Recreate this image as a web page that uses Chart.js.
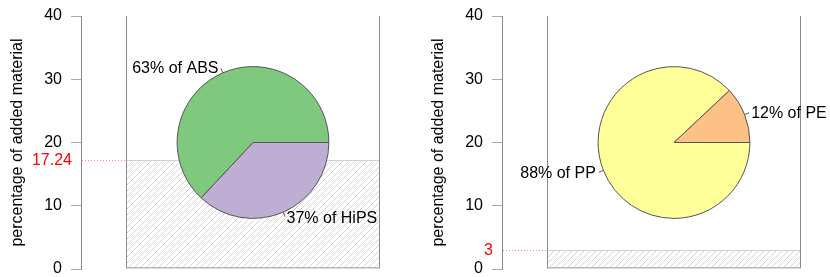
<!DOCTYPE html>
<html><head><meta charset="utf-8">
<script src="https://cdn.jsdelivr.net/npm/chart.js@4"></script>
<style>
html,body{margin:0;padding:0;background:#fff;overflow:hidden;}
#wrap{position:relative;width:830px;height:277px;}
.panel{position:absolute;top:0;width:409px;height:277px;}
.panel canvas{position:absolute;left:0;top:0;}
</style></head><body>
<div id="wrap">
 <div class="panel" style="left:0"><canvas id="bar1" width="409" height="277"></canvas><canvas id="pie1" width="409" height="277"></canvas></div>
 <div class="panel" style="left:421px"><canvas id="bar2" width="409" height="277"></canvas><canvas id="pie2" width="409" height="277"></canvas></div>
</div>
<script>
// ---- data ----
const yAxisTitle = 'percentage of added material';
const yMin = 0, yMax = 40, yStep = 10;
const leftMaterials = ['HiPS', 'ABS'];   // clockwise from 3 o'clock
const leftShares = [37, 63];
const leftAdded = 17.24;
const rightMaterials = ['PP', 'PE'];
const rightShares = [88, 12];
const rightAdded = 3;

// ---- styles / layout ----
const leftColors = ['#beaed4', '#7fc97f'];
const rightColors = ['#ffff99', '#fdc086'];
const pieCenterValue = 20, pieRadiusValue = 12;
const FONT = '"Liberation Sans", Arial, Helvetica, sans-serif';
Chart.defaults.font.family = FONT;
Chart.defaults.font.size = 16;
Chart.defaults.color = '#000';

function makeHatch() {
  const p = document.createElement('canvas');
  p.width = 6; p.height = 6;
  const g = p.getContext('2d');
  g.strokeStyle = '#d2d2d2'; g.lineWidth = 1;
  g.beginPath();
  g.moveTo(0, 6); g.lineTo(6, 0);
  g.moveTo(-1, 1); g.lineTo(1, -1);
  g.moveTo(5, 7); g.lineTo(7, 5);
  g.stroke();
  return g.createPattern(p, 'repeat');
}

const addedMarker = {
  id: 'addedMarker',
  afterDraw(chart, args, opts) {
    const y = chart.scales.y, ca = chart.chartArea, ctx = chart.ctx;
    const py = y.getPixelForValue(opts.value);
    ctx.save();
    ctx.strokeStyle = 'rgba(255,60,60,0.6)'; ctx.lineWidth = 1; ctx.setLineDash([1, 2]);
    ctx.beginPath();
    ctx.moveTo(y.right + 1, Math.round(py) + 0.5);
    ctx.lineTo(ca.left, Math.round(py) + 0.5);
    ctx.stroke();
    ctx.setLineDash([]);
    ctx.fillStyle = '#ff0000';
    ctx.font = '16px ' + FONT;
    ctx.textAlign = 'right'; ctx.textBaseline = 'middle';
    ctx.fillText(String(opts.value), y.right - 9, py + 1);
    ctx.restore();
  }
};

const pieLabels = {
  id: 'pieLabels',
  afterDatasetsDraw(chart) {
    const ctx = chart.ctx;
    const meta = chart.getDatasetMeta(0);
    const ds = chart.data.datasets[0];
    ctx.save();
    ctx.font = '16px ' + FONT;
    ctx.textBaseline = 'middle';
    meta.data.forEach((arc, i) => {
      const {x, y, startAngle, endAngle, outerRadius} =
        arc.getProps(['x', 'y', 'startAngle', 'endAngle', 'outerRadius'], true);
      const a = (startAngle + endAngle) / 2;
      const c = Math.cos(a), s = Math.sin(a);
      ctx.strokeStyle = '#333'; ctx.lineWidth = 0.8;
      ctx.beginPath();
      ctx.moveTo(x + c * outerRadius, y + s * outerRadius);
      ctx.lineTo(x + c * (outerRadius + 5), y + s * (outerRadius + 5));
      ctx.stroke();
      const tx = x + c * (outerRadius + 6) + (c >= 0 ? 1 : -2);
      const ty = y + s * (outerRadius + 6) + 1;
      ctx.textAlign = c >= 0 ? 'left' : 'right';
      ctx.fillStyle = '#000';
      ctx.fillText(ds.data[i] + '% of ' + chart.data.labels[i], tx, ty);
    });
    ctx.restore();
  }
};

function makePanel(barId, pieId, materials, shares, colors, added) {
  const barCanvas = document.getElementById(barId);
  const bar = new Chart(barCanvas, {
    type: 'bar',
    data: {
      labels: [''],
      datasets: [
        {label: 'frame', data: [yMax], yAxisID: 'y', backgroundColor: 'rgba(0,0,0,0)',
         borderColor: '#8c8c8c', borderWidth: 1, borderSkipped: 'top', order: 0, inflateAmount: 0},
        {label: 'added', data: [added], yAxisID: 'y', backgroundColor: makeHatch(),
         borderColor: '#d0d0d0', borderWidth: 1, borderSkipped: false, order: 1, inflateAmount: 0}
      ]
    },
    options: {
      responsive: false, animation: false, devicePixelRatio: 1,
      layout: {padding: {top: 16, bottom: 8, left: 0, right: 29}},
      datasets: {bar: {grouped: false, barPercentage: 1, categoryPercentage: 1}},
      plugins: {legend: {display: false}, tooltip: {enabled: false}, addedMarker: {value: added}},
      scales: {
        x: {display: false},
        y: {
          min: yMin, max: yMax, position: 'left', weight: 1,
          ticks: {stepSize: yStep, color: '#000', padding: 9, font: {size: 16}},
          grid: {display: true, drawOnChartArea: false, tickLength: 10, color: '#aaa'},
          border: {display: true, color: '#888'},
          title: {display: true, text: yAxisTitle, color: '#000', font: {size: 16}, padding: {top: 8, bottom: 0}},
          afterFit(s) { s.width = 81; s.paddingTop = 0; s.paddingBottom = 0; }
        },
        gap: {
          type: 'linear', position: 'left', weight: 0, display: true,
          ticks: {display: false}, grid: {display: false}, border: {display: false},
          afterFit(s) { s.width = 45; s.paddingTop = 0; s.paddingBottom = 0; }
        }
      }
    },
    plugins: [addedMarker]
  });

  const ys = bar.scales.y, ca = bar.chartArea;
  const W = barCanvas.width, H = barCanvas.height;
  const cx = (ca.left + ca.right) / 2;
  const cy = ys.getPixelForValue(pieCenterValue);
  const R = ys.getPixelForValue(0) - ys.getPixelForValue(pieRadiusValue);
  new Chart(document.getElementById(pieId), {
    type: 'pie',
    data: {labels: materials, datasets: [{data: shares, backgroundColor: colors, borderColor: '#555', borderWidth: 1}]},
    options: {
      responsive: false, animation: false, devicePixelRatio: 1,
      rotation: 90, radius: R,
      layout: {padding: {left: cx - R, right: W - cx - R, top: cy - R, bottom: H - cy - R}},
      plugins: {legend: {display: false}, tooltip: {enabled: false}}
    },
    plugins: [pieLabels]
  });
}

makePanel('bar1', 'pie1', leftMaterials, leftShares, leftColors, leftAdded);
makePanel('bar2', 'pie2', rightMaterials, rightShares, rightColors, rightAdded);
</script>
</body></html>
